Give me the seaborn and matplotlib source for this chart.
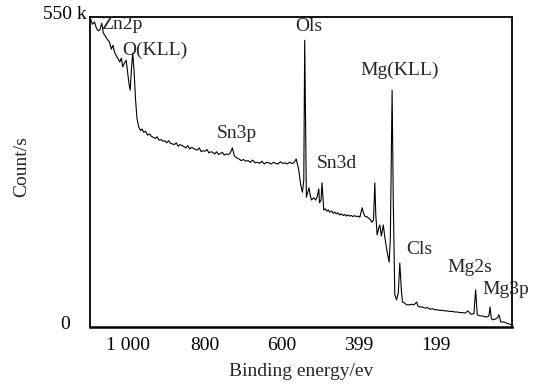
import matplotlib
matplotlib.use("Agg")
import matplotlib.pyplot as plt
from matplotlib.transforms import ScaledTranslation
import seaborn as sns
import pandas as pd

# Binding energy (eV) and intensity (k counts/s)
binding_energy = [
    1100, 1093.5, 1088, 1083, 1078, 1074, 1069, 1065, 1060, 1054, 1049, 1044, 1040,
    1036, 1031, 1026, 1022, 1018, 1014.5, 1010, 1005.6, 1002, 998, 995, 992, 988.4,
    985, 981, 977.5,
    973, 968, 964, 960, 955, 950, 945, 940, 935, 930, 925, 920, 915, 910, 905, 900,
    895, 890, 885, 880, 875, 870, 865, 860, 855, 850, 845, 840, 835, 830, 825, 820,
    815, 810, 805, 800, 795, 790, 785, 780, 775, 770, 765, 760, 755, 750, 745, 740,
    735, 729, 724, 718, 712, 706, 700, 694, 688, 682, 676, 670, 664, 658, 652, 646,
    640, 634, 628, 622, 616, 610, 604, 598, 592, 586, 580, 574, 569,
    562.7, 556, 551, 546.6, 543, 540.6, 536.3, 529.5, 526, 523, 517, 512, 508, 504,
    502, 498, 495.5, 491, 487, 483, 479, 475.5, 470, 466, 462, 458, 454, 449.6, 445,
    440, 436, 432, 428, 423, 419, 415, 410.5, 406, 401, 397, 391, 386.8, 383, 379,
    373.7, 369, 366, 361.5, 358, 355.5, 352, 347.6, 345, 341, 336, 332, 326.8, 320.8,
    317.7, 313, 310, 306, 301.5, 297, 293, 289, 286, 280, 275.4, 266.8, 261, 256, 252,
    249, 246, 240.7, 234, 227.7, 221, 214.6, 208, 201.6, 195, 188.6, 182, 175.5, 169,
    162.5, 156, 149.4, 143, 136.4, 130, 123.4, 115.6, 107.8, 100, 95.5, 91.3, 84, 78,
    73.8, 66, 61, 58, 55, 52, 45, 38, 34.7, 32, 30.3, 21.6, 11.2, 1.5,
]
counts_k = [
    550, 537, 541, 530, 525, 527, 539, 521, 516, 509, 505, 492, 499,
    487, 480, 474, 469, 476, 460, 467, 472, 451, 429, 418, 454, 485,
    454, 400, 368,
    352, 345, 348, 342, 344, 337, 339, 335, 333, 331, 334, 328, 329, 326, 327, 323,
    327, 322, 321, 320, 323, 317, 320, 318, 316, 314, 318, 312, 315, 313, 311, 310,
    314, 307, 309, 308, 311, 305, 307, 306, 303, 307, 302, 304, 306, 301, 303, 302,
    304, 314, 300, 296, 294, 291, 293, 290, 291, 288, 292, 287, 288, 286, 290, 285,
    288, 287, 285, 288, 286, 285, 289, 286, 287, 285, 288, 286, 287,
    294, 274, 247, 234, 256, 508, 225, 242, 228, 220, 224, 220, 226, 240,
    215, 220, 251, 202, 204, 200, 202, 198, 200, 196, 198, 195, 197, 193, 195,
    192, 194, 191, 193, 191, 192, 190, 192, 190, 191, 189, 206, 195, 190, 190,
    187, 184, 180, 184, 251, 193, 157, 170, 175, 155, 175, 153, 130, 108,
    148, 418, 220, 49, 40, 52, 106, 58, 36, 34, 31, 31, 32, 31, 34,
    36, 29, 27, 27, 25, 26, 23, 24, 22, 22, 21, 21, 20, 20,
    19, 19, 18, 18, 17, 17, 16, 20, 14, 15, 58, 13, 11, 11,
    10, 9, 11, 27, 8, 4, 5, 8, 13, 6, 0, 0, -3, -5,
]

# Peak annotations
peak_labels = ["Zn2p", "O(KLL)", "Ols", "Mg(KLL)", "Sn3p", "Sn3d", "Cls", "Mg2s", "Mg3p"]
label_x = [1072, 1016, 530, 293, 718, 458, 243, 110, 17]
label_y = [536, 490, 532, 454, 340, 285, 130, 99, 58]
label_ha = ["left", "left", "center", "center", "center", "center", "center", "center", "center"]

x_ticks = [1000, 900, 800, 700, 600, 500, 400, 300, 200, 100]
x_tick_labels = ["1 000", "", "800", "", "600", "", "399", "", "199", ""]
y_ticks = [0, 550]
y_tick_labels = ["0", "550 k"]

sns.set_style("white")
plt.rcParams["font.family"] = ["Liberation Serif", "DejaVu Serif"]

df = pd.DataFrame({"be": binding_energy, "counts": counts_k})

fig = plt.figure(figsize=(5.35, 3.89), dpi=100)
ax = fig.add_axes([0.168, 0.1594, 0.7896, 0.7969])

sns.lineplot(data=df, x="be", y="counts", ax=ax, color="black", linewidth=0.8,
             estimator=None, sort=False)

ax.set_xlim(1100, 0)
ax.set_ylim(-9, 550)

ax.set_xticks(x_ticks)
ax.set_xticklabels(x_tick_labels)
ax.set_yticks(y_ticks)
ax.set_yticklabels(y_tick_labels)
ax.tick_params(axis="x", direction="in", length=3, width=1, labelsize=14, pad=7, colors="black")
ax.tick_params(axis="y", length=0, labelsize=14, pad=14, colors="black")

# "550 k" sits closer to the axis than "0" in the reference
lbls = ax.get_yticklabels()
lbls[1].set_transform(lbls[1].get_transform() + ScaledTranslation(16 / 100, 4 / 100, fig.dpi_scale_trans))

for s in ax.spines.values():
    s.set_visible(True)
    s.set_color("black")
    s.set_linewidth(1.3)
ax.spines["bottom"].set_linewidth(1.8)

ax.set_xlabel("Binding energy/ev", fontsize=14, labelpad=7)
ax.set_ylabel("Count/s", fontsize=14)
ax.yaxis.set_label_coords(-0.141, 0.516)

for t, x, y, ha in zip(peak_labels, label_x, label_y, label_ha):
    ax.text(x, y, t, fontsize=14, ha=ha, va="center", clip_on=False)

fig.savefig("out.png", dpi=100)
